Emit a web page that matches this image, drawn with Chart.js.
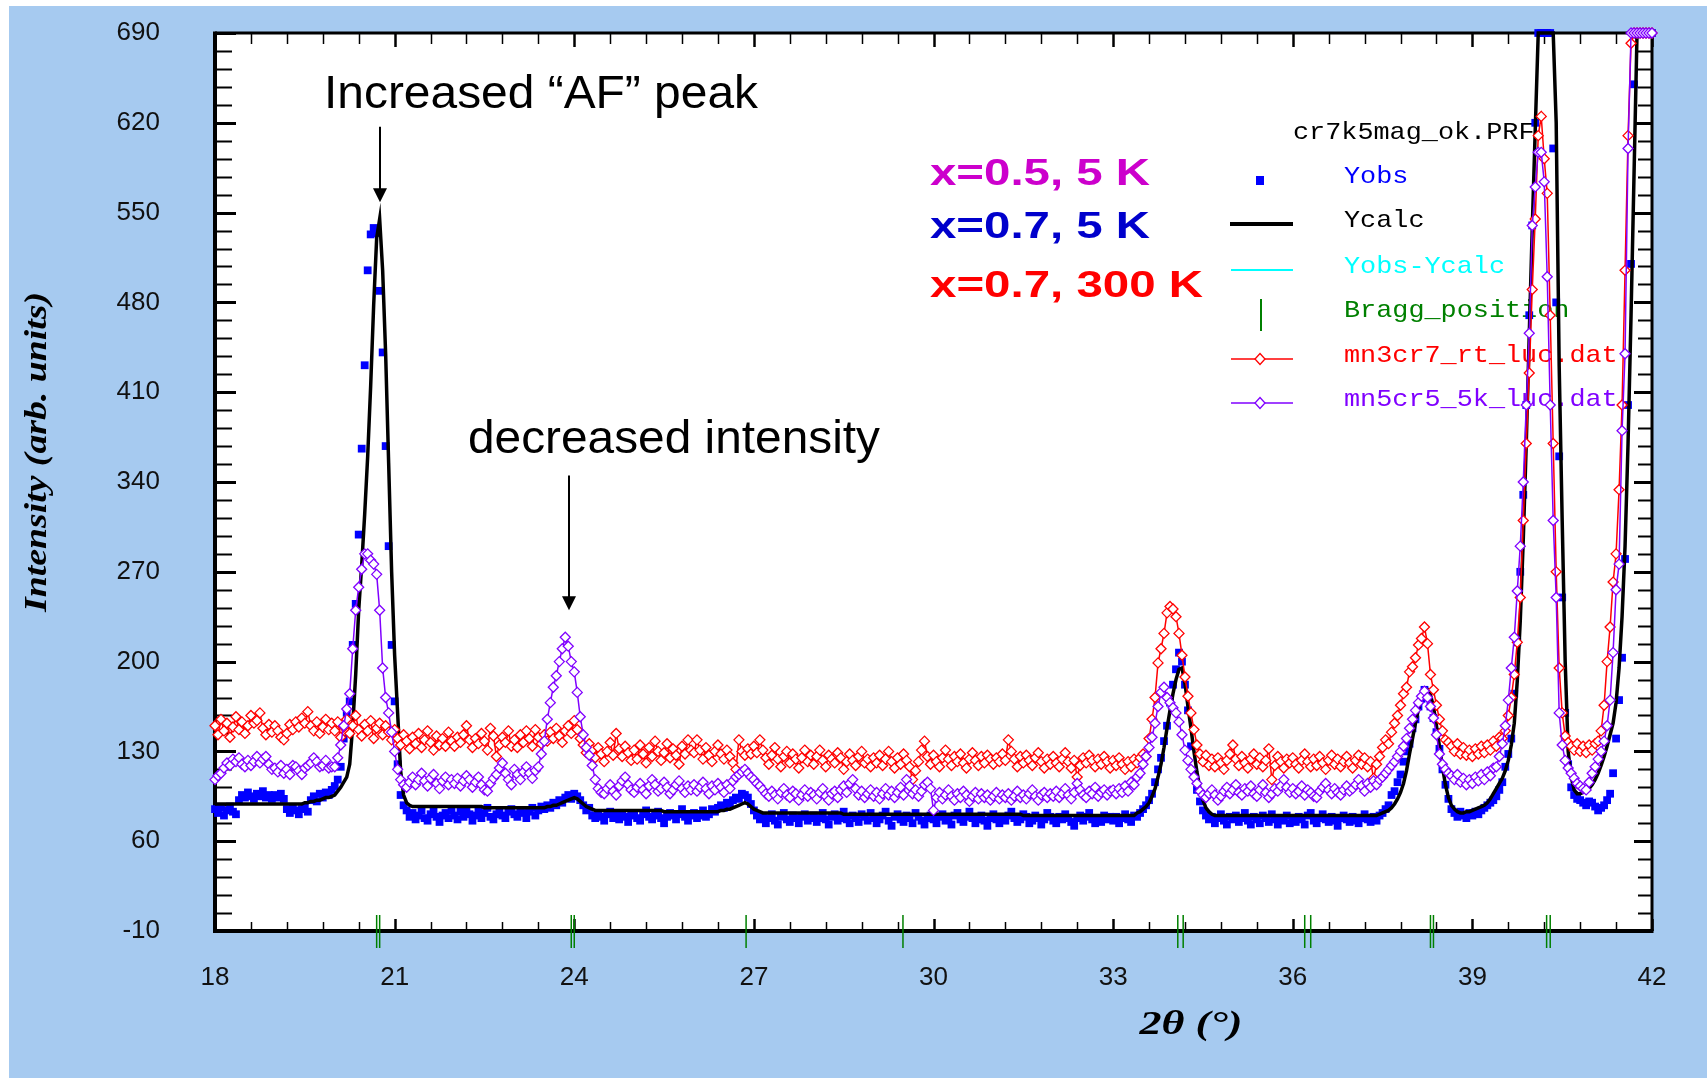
<!DOCTYPE html>
<html>
<head>
<meta charset="utf-8">
<title>cr7k5mag_ok.PRF</title>
<script src="https://cdn.jsdelivr.net/npm/chart.js@4.4.1/dist/chart.umd.min.js"></script>
<style>
    html, body { margin: 0; padding: 0; background: #ffffff; overflow: hidden; }
    canvas { display: block; }
</style>
</head>
<body>
<canvas id="prf-plot" width="1707" height="1078"></canvas>
<script>
// scan grid: 2theta from 18 to 42 deg, one value every 0.05 deg
const scanStart = 18;
const scanStep = 0.05;

// x=0.7, 5 K observed (blue squares)
const yObs = [
    85,82,86,80,84,87,83,81,92,96,94,98,95,93,97,95,99,94,96,93,
    96,94,97,93,85,82,86,84,81,85,87,83,92,95,91,97,94,98,96,100,
    103,108,118,140,160,169,213,245,299,366,431,505,533,538,534,489,441,368,290,213,
    169,120,96,88,84,79,82,77,80,84,78,76,81,83,79,75,80,82,78,84,
    80,77,83,79,85,81,76,80,83,78,82,86,79,77,81,84,80,78,83,85,
    81,79,84,82,78,83,86,80,84,87,85,88,86,90,88,92,90,94,96,93,
    97,95,92,88,84,86,80,78,82,79,76,81,83,78,80,77,82,79,75,80,
    82,78,76,81,84,79,77,80,83,78,74,79,82,80,77,81,85,79,76,80,
    82,78,80,84,79,81,85,83,86,88,86,90,89,92,94,93,97,96,94,89,
    84,80,77,79,74,78,81,76,73,79,82,77,75,80,78,74,79,81,76,78,
    80,75,78,82,77,73,79,81,76,78,83,77,74,80,78,75,81,79,76,82,
    78,74,77,80,83,76,72,79,81,77,75,80,78,74,82,79,76,73,78,80,
    77,74,79,81,76,78,73,80,82,77,75,79,83,78,74,77,80,76,72,78,
    81,77,74,79,76,80,83,78,75,77,81,79,74,76,80,78,73,77,82,79,
    76,74,79,77,81,78,75,72,78,80,76,79,82,77,74,78,75,80,77,79,
    76,79,74,78,81,77,75,80,79,82,85,88,92,97,106,116,125,138,150,168,
    182,194,207,200,182,162,134,115,100,91,84,80,77,79,74,78,81,76,73,79,
    77,80,75,78,82,76,73,79,77,74,80,78,75,81,77,73,78,76,80,74,
    78,75,79,77,73,80,82,76,74,78,81,77,75,79,76,72,78,80,77,75,
    79,76,74,78,81,77,75,79,76,80,82,85,88,96,99,106,112,122,130,136,
    148,155,165,171,178,175,165,156,145,132,116,104,93,85,82,79,83,80,78,82,
    80,83,81,84,86,88,90,92,95,100,106,118,128,140,175,215,270,330,400,470,
    540,620,690,690,690,690,690,600,480,360,250,160,120,102,96,93,92,90,88,91,
    90,87,84,86,88,92,97,113,140,170,203,280,400,510,650,690,690,690,690,690,
    690
];

// refined profile (black line)
const yCalc = [
    89,89,89,89,89,89,89,89,89,89,89,89,89,89,89,89,89,89,89,89,
    89,89,89,89,89,89,89,89,89,89,90,90,91,91,92,92,93,94,94,95,
    96,99,102,106,110,120,150,190,240,275,315,360,415,478,530,545,505,440,355,270,
    205,160,115,96,90,88,87,87,87,87,87,87,87,87,87,87,87,87,87,87,
    87,87,87,87,87,87,87,87,87,87,86,86,86,86,86,86,86,86,86,86,
    86,86,86,86,86,86,86,86,86,86,86,87,87,88,88,89,90,91,92,93,
    94,93,91,89,87,86,85,84,84,84,84,84,84,84,84,84,84,84,84,84,
    84,84,84,84,84,84,84,84,84,84,83,83,83,83,83,83,83,83,83,83,
    83,83,83,83,83,83,83,83,83,84,84,85,85,86,87,88,89,90,89,87,
    85,84,83,82,82,82,82,82,82,82,82,82,82,82,82,82,82,82,82,82,
    82,82,82,82,82,82,82,82,82,82,81,81,81,81,81,81,81,81,81,81,
    81,81,81,81,81,81,81,81,81,81,81,81,81,81,81,81,81,81,81,81,
    81,81,81,81,81,81,81,81,81,81,81,81,81,81,81,81,81,81,81,81,
    81,81,81,81,81,81,81,81,81,81,80,80,80,80,80,80,80,80,80,80,
    80,80,80,80,80,80,80,80,80,80,80,80,80,80,80,80,80,80,80,80,
    80,80,80,80,80,80,80,80,82,83,85,87,90,95,101,110,120,133,148,162,
    175,186,194,195,183,165,148,130,114,101,92,86,83,81,80,80,80,80,80,80,
    80,80,80,80,80,80,80,80,80,80,80,80,80,80,80,80,80,80,80,80,
    80,80,80,80,80,80,80,80,80,80,80,80,80,80,80,80,80,80,80,80,
    80,80,80,80,80,80,80,80,80,81,82,83,84,86,89,93,98,105,115,128,
    140,152,163,172,177,178,174,165,150,134,118,104,94,88,85,83,82,82,83,83,
    84,85,86,87,88,90,93,97,101,105,109,115,123,135,152,185,232,295,370,455,
    538,615,690,690,690,690,690,690,620,430,310,200,130,110,100,97,97,98,99,101,
    104,108,113,119,126,134,143,152,168,195,235,290,370,470,580,690,690,690,690,690,
    690
];

// mn3cr7_rt_luc.dat : x=0.7, 300 K (red diamonds)
const rt300K = [
    150,143,155,146,152,141,149,157,147,153,144,150,158,152,154,160,148,143,151,145,
    150,146,141,139,144,151,147,153,149,156,152,161,150,146,153,144,149,155,147,152,
    146,153,141,149,155,144,150,158,147,142,151,146,154,140,148,152,143,150,145,139,
    147,140,135,143,138,132,141,136,144,133,139,146,137,131,142,135,140,134,145,138,
    134,141,137,143,150,139,133,140,136,144,138,131,148,142,126,135,141,137,146,134,
    139,133,143,137,146,140,134,147,141,136,143,138,145,140,148,142,137,146,150,144,
    154,147,140,135,129,136,131,125,133,128,122,130,137,127,144,132,126,134,129,123,
    131,124,135,128,121,133,126,138,130,123,129,136,125,132,127,120,134,128,139,131,
    129,139,131,124,133,127,122,130,135,128,124,131,126,121,116,139,130,127,132,128,
    134,129,139,131,125,120,127,133,124,118,126,130,121,128,124,117,125,131,122,127,
    120,126,131,123,118,127,124,121,129,125,116,122,128,123,119,126,130,121,124,118,
    125,121,127,119,124,130,122,117,125,120,128,123,118,108,115,122,131,138,126,120,
    127,122,118,125,131,124,119,126,122,128,121,117,124,129,123,119,126,121,127,124,
    120,125,122,128,123,139,130,124,118,126,121,127,123,119,125,129,122,117,124,120,
    126,121,118,124,129,122,117,123,110,119,125,121,127,123,118,124,120,126,122,117,
    123,119,125,120,116,122,118,124,121,125,128,126,140,155,172,199,210,222,238,243,
    241,235,222,205,188,173,160,147,135,128,122,127,119,124,118,125,121,116,123,128,
    135,124,119,126,121,117,124,128,120,125,118,123,132,108,119,126,122,117,124,121,
    125,120,117,123,128,122,118,124,119,126,121,116,123,127,120,124,118,122,126,121,
    117,123,127,120,125,118,122,109,120,126,133,139,136,145,152,158,166,175,180,192,
    196,203,213,218,227,214,190,178,166,155,146,139,137,134,130,136,128,133,127,131,
    126,132,128,134,129,135,131,138,134,141,140,146,158,172,190,215,250,310,370,425,
    490,545,610,625,592,565,470,370,270,195,160,142,137,134,131,136,130,134,129,135,
    131,136,138,146,166,200,227,262,284,334,400,505,610,682,690,690,690,690,690,690,
    690
];

// mn5cr5_5k_luc.dat : x=0.5, 5 K (purple diamonds)
const lt5K = [
    108,111,113,117,121,119,124,122,125,120,118,123,119,122,126,121,124,126,120,116,
    117,114,119,113,116,112,119,118,115,112,117,119,121,125,122,118,119,123,117,118,
    118,125,135,150,163,175,210,240,258,272,284,284,279,276,268,240,195,172,160,145,
    130,116,108,104,102,106,110,104,108,113,107,103,109,112,105,101,107,110,104,108,
    105,109,103,107,111,108,102,106,110,104,100,99,105,109,112,117,121,113,108,104,
    116,112,108,114,118,113,109,115,118,128,138,155,168,180,189,200,210,219,212,200,
    192,176,157,143,133,127,119,108,101,98,97,101,104,99,96,103,107,110,104,100,
    98,102,105,100,97,103,108,104,99,101,106,102,97,100,104,107,101,98,103,100,
    104,99,102,106,101,97,103,100,105,102,98,104,101,107,110,112,114,116,113,110,
    108,105,103,100,97,95,99,96,93,98,101,96,94,99,97,92,96,100,95,98,
    96,93,98,101,95,92,97,99,94,100,103,98,105,108,101,96,99,94,97,100,
    95,98,93,97,101,96,99,94,98,102,96,108,103,97,100,95,99,104,106,101,
    84,94,98,93,96,100,95,92,97,94,99,96,91,95,98,93,97,94,96,92,
    95,98,93,96,94,97,92,95,99,94,96,93,97,100,95,92,96,98,94,97,
    95,99,94,97,101,96,93,98,105,100,96,94,99,97,102,95,98,100,96,99,
    100,97,101,98,103,99,106,104,110,113,120,126,133,141,152,165,176,180,172,168,
    164,160,153,143,131,123,116,110,105,99,96,94,97,100,96,92,95,99,102,97,
    100,104,98,96,101,99,103,97,95,100,104,98,94,97,101,99,103,108,102,98,
    101,97,99,103,96,100,98,95,94,99,102,105,100,97,101,98,96,100,103,99,
    101,104,108,103,99,105,102,107,104,108,110,113,116,119,122,126,130,134,140,148,
    155,162,168,173,177,172,165,156,143,128,120,116,113,111,108,112,106,109,104,108,
    105,110,107,112,108,114,111,117,118,126,136,150,170,195,219,255,290,340,400,456,
    540,570,597,597,574,500,400,310,250,160,135,123,117,113,109,105,103,101,100,106,
    113,118,124,130,138,150,170,207,256,276,380,440,600,690,690,690,690,690,690,690,
    690
];

const braggPositions = [20.70, 20.75, 23.95, 24.00, 26.87, 29.49, 34.08, 34.17, 36.20, 36.30, 38.30, 38.35, 40.24, 40.30];
const braggSpan = [2.5, -23.3];

const xRange = [18, 42];
const xStep = 3;
const xMinorStep = 0.6;
const yRange = [-10, 690];
const yStep = 70;
const yMinorStep = 14;

const legendTitle = 'cr7k5mag_ok.PRF';
const legendLabels = ['Yobs', 'Ycalc', 'Yobs-Ycalc', 'Bragg_position', 'mn3cr7_rt_luc.dat', 'mn5cr5_5k_luc.dat'];
const sampleLabels = ['x=0.5, 5 K', 'x=0.7, 5 K', 'x=0.7, 300 K'];

const panelBlue = '#a6caf0';
const legendColors = ['#0000ff', '#000000', '#00ffff', '#008000', '#ff0000', '#8000ff'];
const legendKinds = ['square', 'thick', 'line', 'tick', 'diamond', 'diamond'];
const sampleColors = ['#cc00cc', '#0000cc', '#ff0000'];

const sansFamily = "'Liberation Sans', Arial, sans-serif";

function toPoints (values) {
    return values.map((y, i) => ({ x: +(scanStart + i * scanStep).toFixed(2), y }));
}

function braggSegments (positions) {
    const points = [];
    positions.forEach(pos => {
        points.push({ x: pos, y: braggSpan[0] }, { x: pos, y: braggSpan[1] }, { x: pos, y: null });
    });
    return points;
}

function strokeLine (ctx, x1, y1, x2, y2) {
    ctx.beginPath();
    ctx.moveTo(x1, y1);
    ctx.lineTo(x2, y2);
    ctx.stroke();
}

// draw text squeezed or stretched to a given width
function fillFitted (ctx, text, x, y, width, align) {
    const natural = ctx.measureText(text).width;
    ctx.save();
    ctx.translate(x, y);
    ctx.scale(width / natural, 1);
    ctx.textAlign = align || 'left';
    ctx.fillText(text, 0, 0);
    ctx.restore();
}

function drawDiamond (ctx, x, y, color) {
    ctx.beginPath();
    ctx.moveTo(x, y - 5.5);
    ctx.lineTo(x + 5, y);
    ctx.lineTo(x, y + 5.5);
    ctx.lineTo(x - 5, y);
    ctx.closePath();
    ctx.fillStyle = '#ffffff';
    ctx.fill();
    ctx.lineWidth = 1.3;
    ctx.strokeStyle = color;
    ctx.stroke();
}

function drawFrame (chart) {
    const { ctx, chartArea: a, scales: { x, y } } = chart;
    ctx.save();
    ctx.strokeStyle = '#000000';

    // y ticks on left and right, pointing inwards
    const yCount = Math.round((yRange[1] - yRange[0]) / yMinorStep);
    for (let i = 0; i <= yCount; i++) {
        const major = i % 5 === 0;
        const py = Math.round(y.getPixelForValue(yRange[0] + i * yMinorStep)) + 0.5;
        ctx.lineWidth = major ? 3 : 2;
        strokeLine(ctx, a.left, py, a.left + (major ? 21 : 17), py);
        strokeLine(ctx, a.right, py, a.right - (major ? 18 : 14), py);
    }

    // x ticks on top and bottom
    const xCount = Math.round((xRange[1] - xRange[0]) / xMinorStep);
    for (let i = 0; i <= xCount; i++) {
        const major = i % 5 === 0;
        const px = Math.round(x.getPixelForValue(xRange[0] + i * xMinorStep)) + 0.5;
        ctx.lineWidth = major ? 2.5 : 1.5;
        strokeLine(ctx, px, a.top, px, a.top + (major ? 14 : 11));
        strokeLine(ctx, px, a.bottom, px, a.bottom - (major ? 12 : 9));
    }

    ctx.lineWidth = 3;
    strokeLine(ctx, a.left, a.top, a.right + 1.5, a.top);
    strokeLine(ctx, a.right, a.top, a.right, a.bottom);
    ctx.lineWidth = 4;
    strokeLine(ctx, a.left, a.top - 1.5, a.left, a.bottom + 2);
    strokeLine(ctx, a.left - 2, a.bottom, a.right + 1.5, a.bottom);
    ctx.restore();
}

function drawLegendBox (chart) {
    const { ctx } = chart;
    const textLeft = 1344;
    const symbolX = 1260;
    const baselines = [183, 227, 273, 317, 362, 406];
    ctx.save();
    ctx.font = "24px 'Liberation Mono', 'Courier New', monospace";
    ctx.textBaseline = 'alphabetic';
    ctx.fillStyle = '#000000';
    fillFitted(ctx, legendTitle, 1293, 139, legendTitle.length * 16.1);

    legendLabels.forEach((label, i) => {
        const color = legendColors[i];
        const sy = baselines[i] - 3;
        ctx.fillStyle = color;
        fillFitted(ctx, label, textLeft, baselines[i], label.length * 16.1);

        ctx.strokeStyle = color;
        ctx.fillStyle = color;
        const kind = legendKinds[i];
        if (kind === 'square') {
            ctx.fillRect(symbolX - 4, sy - 4, 8, 9);
        } else if (kind === 'thick') {
            ctx.lineWidth = 4;
            strokeLine(ctx, 1230, sy, 1293, sy);
        } else if (kind === 'line') {
            ctx.lineWidth = 2;
            strokeLine(ctx, 1231, sy, 1293, sy);
        } else if (kind === 'tick') {
            ctx.lineWidth = 2;
            strokeLine(ctx, symbolX + 1, 299, symbolX + 1, 331);
        } else {
            ctx.lineWidth = 1.5;
            strokeLine(ctx, 1231, sy, 1293, sy);
            drawDiamond(ctx, symbolX, sy, color);
        }
    });
    ctx.restore();
}

function drawArrow (ctx, x, yFrom, yTip) {
    ctx.lineWidth = 2;
    strokeLine(ctx, x, yFrom, x, yTip - 12);
    ctx.beginPath();
    ctx.moveTo(x - 7, yTip - 14);
    ctx.lineTo(x + 7, yTip - 14);
    ctx.lineTo(x, yTip);
    ctx.closePath();
    ctx.fill();
}

function drawNotes (chart) {
    const { ctx, scales: { x, y } } = chart;
    ctx.save();
    ctx.fillStyle = '#000000';
    ctx.strokeStyle = '#000000';
    ctx.textBaseline = 'alphabetic';

    // peak remarks with arrows
    ctx.font = '46px ' + sansFamily;
    fillFitted(ctx, 'Increased \u201cAF\u201d peak', 324, 108, 434);
    fillFitted(ctx, 'decreased intensity', 468, 453, 412);
    drawArrow(ctx, Math.round(x.getPixelForValue(20.75)), y.getPixelForValue(617), y.getPixelForValue(558));
    drawArrow(ctx, Math.round(x.getPixelForValue(23.92)), y.getPixelForValue(345), y.getPixelForValue(240));

    // sample labels
    ctx.font = 'bold 37px ' + sansFamily;
    const sampleBaselines = [185, 238, 297];
    const sampleWidths = [220, 220, 273];
    sampleLabels.forEach((label, i) => {
        ctx.fillStyle = sampleColors[i];
        fillFitted(ctx, label, 930, sampleBaselines[i], sampleWidths[i]);
    });

    // axis titles
    ctx.fillStyle = '#000000';
    ctx.textBaseline = 'middle';
    ctx.font = "bold italic 34px 'Liberation Serif', 'Times New Roman', serif";
    fillFitted(ctx, '2\u03b8 (\u00b0)', 1191, 1025, 103, 'center');

    ctx.font = "bold italic 32px 'Liberation Serif', 'Times New Roman', serif";
    ctx.translate(38, 452);
    ctx.rotate(-Math.PI / 2);
    fillFitted(ctx, 'Intensity (arb. units)', 0, 0, 320, 'center');
    ctx.restore();
}

const prfPlugin = {
    id: 'prfDecor',
    beforeDraw (chart) {
        const { ctx, chartArea: a, width, height } = chart;
        ctx.save();
        ctx.fillStyle = '#ffffff';
        ctx.fillRect(0, 0, width, height);
        ctx.fillStyle = panelBlue;
        ctx.fillRect(9, 6, width - 9, height - 6);
        ctx.fillStyle = '#ffffff';
        ctx.fillRect(a.left, a.top, a.right - a.left, a.bottom - a.top);
        ctx.restore();
    },
    beforeDatasetsDraw (chart) {
        drawFrame(chart);
        drawLegendBox(chart);
    },
    afterDraw (chart) {
        drawNotes(chart);
    }
};

const tickFont = { family: sansFamily, size: 26 };

new Chart(
    document.getElementById('prf-plot'),
    {
        type: 'line',
        data: {
            datasets: [
                {
                    label: legendLabels[5],
                    data: toPoints(lt5K),
                    borderColor: legendColors[5],
                    borderWidth: 1.5,
                    pointStyle: 'rectRot',
                    pointRadius: 5,
                    pointBorderWidth: 1.3,
                    pointBorderColor: legendColors[5],
                    pointBackgroundColor: '#ffffff',
                    clip: 8,
                    order: 0
                },
                {
                    label: legendLabels[4],
                    data: toPoints(rt300K),
                    borderColor: legendColors[4],
                    borderWidth: 1.5,
                    pointStyle: 'rectRot',
                    pointRadius: 5,
                    pointBorderWidth: 1.3,
                    pointBorderColor: legendColors[4],
                    pointBackgroundColor: '#ffffff',
                    clip: 8,
                    order: 1
                },
                {
                    label: legendLabels[1],
                    data: toPoints(yCalc),
                    borderColor: legendColors[1],
                    borderWidth: 3.5,
                    pointRadius: 0,
                    clip: 4,
                    order: 2
                },
                {
                    label: legendLabels[0],
                    data: toPoints(yObs),
                    showLine: false,
                    pointStyle: 'rect',
                    pointRadius: 5.5,
                    pointBorderWidth: 0,
                    pointBackgroundColor: legendColors[0],
                    pointBorderColor: legendColors[0],
                    clip: 8,
                    order: 3
                },
                {
                    label: legendLabels[3],
                    data: braggSegments(braggPositions),
                    borderColor: legendColors[3],
                    borderWidth: 1.5,
                    pointRadius: 0,
                    spanGaps: false,
                    clip: false,
                    order: 4
                }
            ]
        },
        options: {
            responsive: false,
            animation: false,
            events: [],
            layout: {
                padding: { left: 0, right: 55, top: 33, bottom: 0 }
            },
            scales: {
                x: {
                    type: 'linear',
                    min: xRange[0],
                    max: xRange[1],
                    afterFit: scale => { scale.height = 147; },
                    grid: { display: false, drawTicks: false },
                    border: { display: false },
                    ticks: {
                        stepSize: xStep,
                        autoSkip: false,
                        maxRotation: 0,
                        padding: 31,
                        color: '#111111',
                        font: tickFont
                    }
                },
                y: {
                    type: 'linear',
                    min: yRange[0],
                    max: yRange[1],
                    afterFit: scale => {
                        // tick padding is horizontal here; keep it out of the top/bottom margin
                        scale.width = 215;
                        scale.paddingTop = 16;
                        scale.paddingBottom = 16;
                    },
                    grid: { display: false, drawTicks: false },
                    border: { display: false },
                    ticks: {
                        stepSize: yStep,
                        autoSkip: false,
                        padding: 55,
                        color: '#111111',
                        font: tickFont
                    }
                }
            },
            plugins: {
                legend: { display: false },
                tooltip: { enabled: false }
            }
        },
        plugins: [prfPlugin]
    }
);
</script>
</body>
</html>
